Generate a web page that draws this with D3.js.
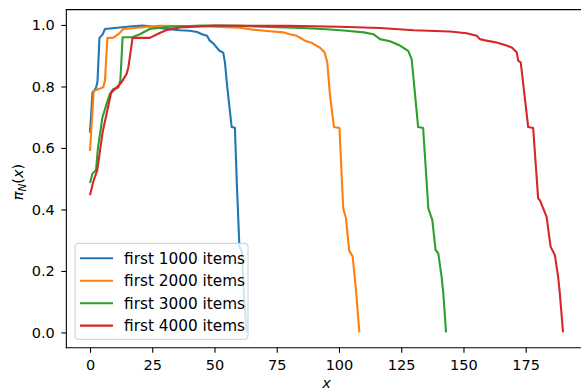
<!DOCTYPE html>
<html>
<head>
<meta charset="utf-8">
<script src="https://cdn.jsdelivr.net/npm/d3@7"></script>
<style>
  body { margin: 0; background: #fff; }
  svg { display: block; font-family: "DejaVu Sans", sans-serif; }
  .tick text { font-size: 14.5px; fill: #000; }
</style>
</head>
<body>
<main></main>
<script>
// values, one list per series
const labels = ["first 1000 items", "first 2000 items", "first 3000 items", "first 4000 items"];
const colors = ["#1f77b4", "#ff7f0e", "#2ca02c", "#d62728"];

const x1000 = [0, 1, 2.4, 3, 3.8, 5, 6, 10, 17, 21, 25, 30, 36, 40, 43, 45, 47, 48, 49.5, 52, 53.5, 54.2, 55.1, 56.9, 58.2, 59, 60, 61, 62, 63];
const y1000 = [0.65, 0.78, 0.795, 0.815, 0.958, 0.968, 0.987, 0.99, 0.996, 0.998, 0.995, 0.988, 0.983, 0.981, 0.977, 0.97, 0.965, 0.95, 0.94, 0.916, 0.91, 0.878, 0.80, 0.668, 0.666, 0.48, 0.28, 0.262, 0.1, 0.0];

const x2000 = [0, 1.5, 3, 5.3, 6, 7, 9.4, 11.4, 13.4, 20, 28, 45, 60, 65, 70, 77.6, 80.3, 83, 86.3, 89, 92.4, 94.2, 95.3, 96.4, 98, 100.2, 101.7, 102.8, 104.1, 105.5, 106.8, 108.2];
const y2000 = [0.59, 0.785, 0.79, 0.797, 0.819, 0.958, 0.959, 0.97, 0.987, 0.992, 0.997, 0.996, 0.991, 0.985, 0.981, 0.976, 0.97, 0.965, 0.949, 0.942, 0.926, 0.911, 0.878, 0.77, 0.668, 0.665, 0.404, 0.372, 0.266, 0.247, 0.14, 0.0];

const x3000 = [0, 1, 2.4, 3.2, 5, 6.7, 8, 9.4, 11.4, 12.2, 13.1, 17, 20, 24, 32, 45, 60, 75, 85, 95, 103, 110, 113.8, 116.5, 120.5, 124.5, 127.8, 129.2, 131.8, 133.8, 135.9, 137.5, 138.8, 139.9, 141.2, 141.9, 143];
const y3000 = [0.486, 0.517, 0.527, 0.6, 0.70, 0.744, 0.776, 0.792, 0.797, 0.82, 0.96, 0.96, 0.97, 0.987, 0.994, 0.998, 0.997, 0.993, 0.99, 0.986, 0.981, 0.976, 0.97, 0.954, 0.947, 0.933, 0.916, 0.889, 0.668, 0.665, 0.403, 0.365, 0.268, 0.257, 0.182, 0.128, 0.0];

const x4000 = [0, 1.3, 2.9, 5.1, 6.5, 8.5, 10.5, 12.7, 14.7, 15.4, 17.1, 24, 28, 31, 36, 50, 80, 100, 116.5, 130, 144.6, 151.3, 155.3, 156.6, 159.3, 163.3, 167.3, 169.4, 171.4, 172, 173, 176, 178, 180, 180.7, 183.4, 185, 186.7, 188, 188.7, 190];
const y4000 = [0.446, 0.49, 0.527, 0.653, 0.705, 0.78, 0.795, 0.814, 0.841, 0.862, 0.958, 0.958, 0.974, 0.984, 0.992, 0.998, 0.997, 0.994, 0.99, 0.983, 0.979, 0.973, 0.965, 0.954, 0.949, 0.943, 0.933, 0.927, 0.911, 0.884, 0.878, 0.668, 0.665, 0.436, 0.43, 0.376, 0.279, 0.252, 0.182, 0.128, 0.0];

const xTicks = [0, 25, 50, 75, 100, 125, 150, 175];
const yTicks = [0.0, 0.2, 0.4, 0.6, 0.8, 1.0];

const svgSize = { width: 581, height: 390 };
const plot = { left: 66.35, right: 586.7, top: 9.6, bottom: 347.8 };

const createCanvas = () => {
  return d3.select("main")
           .append("svg")
           .attr("width", svgSize.width)
           .attr("height", svgSize.height);
};

const defineScales = () => {
  const xScale = d3.scaleLinear()
                   .domain([-9.5, 199.5])
                   .range([plot.left, plot.right]);
  const yScale = d3.scaleLinear()
                   .domain([-0.05, 1.05])
                   .range([plot.bottom, plot.top]);
  return { xScale, yScale };
};

const createLines = (svg, scales) => {
  svg.append("clipPath").attr("id", "clip")
     .append("rect")
     .attr("x", plot.left).attr("y", plot.top)
     .attr("width", plot.right - plot.left).attr("height", plot.bottom - plot.top);

  const series = [[x1000, y1000], [x2000, y2000], [x3000, y3000], [x4000, y4000]];
  const line = d3.line()
                 .x(d => scales.xScale(d[0]))
                 .y(d => scales.yScale(d[1]));

  svg.append("g")
     .attr("clip-path", "url(#clip)")
     .selectAll("path")
     .data(series)
     .enter()
     .append("path")
     .attr("d", s => line(d3.zip(s[0], s[1])))
     .attr("fill", "none")
     .attr("stroke", (d, i) => colors[i])
     .attr("stroke-width", 2.1)
     .attr("stroke-linejoin", "round")
     .attr("stroke-linecap", "butt");
};

const createAxes = (svg, scales) => {
  const xAxis = svg.append("g")
     .attr("transform", `translate(0, ${plot.bottom})`)
     .call(d3.axisBottom(scales.xScale).tickValues(xTicks).tickSize(5).tickPadding(6.5).tickSizeOuter(0));
  const yAxis = svg.append("g")
     .attr("transform", `translate(${plot.left}, 0)`)
     .call(d3.axisLeft(scales.yScale).tickValues(yTicks).tickFormat(d3.format(".1f")).tickSize(5).tickPadding(6.5).tickSizeOuter(0));

  [xAxis, yAxis].forEach(a => {
    a.select(".domain").remove();
    a.selectAll(".tick line").attr("stroke", "#000").attr("stroke-width", 1.1);
    a.selectAll(".tick text").attr("font-family", "DejaVu Sans").attr("font-size", 14.5);
  });

  // spines
  const spine = (x1, y1, x2, y2) => svg.append("line")
     .attr("x1", x1).attr("y1", y1).attr("x2", x2).attr("y2", y2)
     .attr("stroke", "#000").attr("stroke-width", 1.1).attr("stroke-linecap", "square");
  spine(plot.left, plot.top, plot.left, plot.bottom);
  spine(plot.left, plot.bottom, plot.right, plot.bottom);
  spine(plot.left, plot.top, plot.right, plot.top);
  spine(plot.right, plot.top, plot.right, plot.bottom);
};

const createLabels = (svg) => {
  svg.append("text")
     .attr("x", (plot.left + plot.right) / 2)
     .attr("y", 388)
     .attr("text-anchor", "middle")
     .attr("font-size", 14.5)
     .attr("font-style", "italic")
     .text("x");

  const yl = svg.append("text")
     .attr("transform", "translate(23, 182) rotate(-90)")
     .attr("text-anchor", "middle")
     .attr("font-size", 14.5);
  yl.append("tspan").attr("font-style", "italic").text("π");
  yl.append("tspan").attr("font-style", "italic").attr("font-size", 10.5).attr("dy", 3).text("N");
  yl.append("tspan").attr("dy", -3).text("(");
  yl.append("tspan").attr("font-style", "italic").text("x");
  yl.append("tspan").text(")");
};

const createLegend = (svg) => {
  const g = svg.append("g");
  g.append("rect")
   .attr("x", 75).attr("y", 243.3)
   .attr("width", 173).attr("height", 96)
   .attr("rx", 3)
   .attr("fill", "#fff").attr("fill-opacity", 0.8)
   .attr("stroke", "#cccccc").attr("stroke-width", 1);

  const rows = g.selectAll("g.row")
   .data(labels)
   .enter()
   .append("g")
   .attr("class", "row")
   .attr("transform", (d, i) => `translate(0, ${258.3 + i * 22.45})`);
  rows.append("line")
      .attr("x1", 80).attr("x2", 113)
      .attr("stroke", (d, i) => colors[i])
      .attr("stroke-width", 2.1);
  rows.append("text")
      .attr("x", 124)
      .attr("dy", "0.36em")
      .attr("font-size", 15.3)
      .text(d => d);
};

const driver = () => {
  const svg = createCanvas();
  svg.append("rect").attr("width", svgSize.width).attr("height", svgSize.height).attr("fill", "#fff");
  const scales = defineScales();
  createLines(svg, scales);
  createAxes(svg, scales);
  createLabels(svg);
  createLegend(svg);
};
driver();
</script>
</body>
</html>
